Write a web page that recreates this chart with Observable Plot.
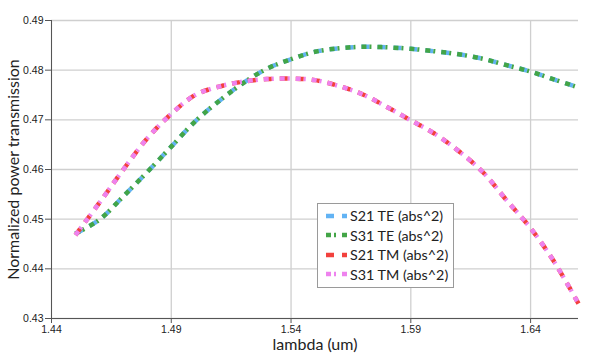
<!DOCTYPE html>
<html>
<head>
<meta charset="utf-8">
<script src="https://cdn.jsdelivr.net/npm/d3@7"></script>
<script src="https://cdn.jsdelivr.net/npm/@observablehq/plot@0.6"></script>
<style>
  html, body { margin: 0; padding: 0; background: #fff; }
  #wrap { position: relative; width: 598px; height: 359px; }
  #wrap svg { font-family: "Liberation Sans", sans-serif; }
  #wrap svg [aria-label="x-axis label"] text,
  #wrap svg [aria-label="y-axis label"] text { font-family: Lato, sans-serif; font-size: 16px; fill: #222; }
  #legend { position: absolute; left: 317px; top: 203px; padding: 2px 5px 3px 0;
    background: #fff; border: 1px solid #9a9a9a; font-family: Lato, sans-serif; font-size: 14.3px; color: #222; white-space: nowrap; }
  #legend .row { display: flex; align-items: center; height: 19.5px; }
  #legend svg { margin: 0 3px 0 5px; flex: none; }
</style>
</head>
<body>
<div id="wrap"></div>
<script>
const lambda = [1.45,1.46,1.47,1.48,1.49,1.50,1.51,1.52,1.53,1.54,1.55,1.56,1.57,1.58,1.59,1.60,1.61,1.62,1.63,1.64,1.65,1.66];
const s21TE = [0.4471,0.4499,0.4546,0.4595,0.4646,0.4697,0.4738,0.4774,0.4803,0.4822,0.4837,0.4844,0.4847,0.4846,0.4843,0.4838,0.4832,0.4823,0.4810,0.4797,0.4781,0.4765];
const s31TE = [0.4471,0.4499,0.4546,0.4595,0.4646,0.4697,0.4738,0.4774,0.4803,0.4822,0.4837,0.4844,0.4847,0.4846,0.4843,0.4838,0.4832,0.4823,0.4810,0.4797,0.4781,0.4765];
const s21TM = [0.4468,0.4533,0.4600,0.4663,0.4712,0.4750,0.4767,0.4777,0.4782,0.4783,0.4780,0.4768,0.4751,0.4726,0.4699,0.4672,0.4637,0.4595,0.4538,0.4482,0.4413,0.4330];
const s31TM = [0.4468,0.4533,0.4600,0.4663,0.4712,0.4750,0.4767,0.4777,0.4782,0.4783,0.4780,0.4768,0.4751,0.4726,0.4699,0.4672,0.4637,0.4595,0.4538,0.4482,0.4413,0.4330];
const seriesNames = ["S21 TE (abs^2)", "S31 TE (abs^2)", "S21 TM (abs^2)", "S31 TM (abs^2)"];
const seriesValues = [s21TE, s31TE, s21TM, s31TM];
const seriesColors = ["#62b3f4", "#43a547", "#f2413d", "#ee82ee"];
const seriesDash = ["8,8", "5,3,2,6", "8,8", "5,3,2,6"];
const xTicks = [1.44, 1.49, 1.54, 1.59, 1.64];
const yTicks = [0.43, 0.44, 0.45, 0.46, 0.47, 0.48, 0.49];

const lineMarks = seriesNames.map((name, i) => {
  const rows = lambda.map((x, j) => ({x, y: seriesValues[i][j], name}));
  return Plot.line(rows, {x: "x", y: "y", stroke: seriesColors[i], strokeWidth: 4.5,
    strokeDasharray: seriesDash[i], curve: "catmull-rom", strokeLinecap: "butt"});
});

const chart = Plot.plot({
  width: 598, height: 359,
  marginLeft: 51, marginRight: 20, marginTop: 20, marginBottom: 41,
  style: {fontSize: "10.5px", color: "#222", background: "#fff"},
  x: {domain: [1.44, 1.66]},
  y: {domain: [0.43, 0.49]},
  marks: [
    Plot.gridX(xTicks, {stroke: "#cfcfcf", strokeOpacity: 1, strokeWidth: 1.3}),
    Plot.gridY(yTicks, {stroke: "#cfcfcf", strokeOpacity: 1, strokeWidth: 1.3}),
    Plot.axisX(xTicks, {tickSize: 5, tickFormat: d3.format(".2f"), tickPadding: 2, stroke: "#555",
      label: "lambda (um)", labelAnchor: "center", labelArrow: "none", labelOffset: 31}),
    Plot.axisY(yTicks, {tickSize: 6, tickFormat: d3.format(".2f"), tickPadding: 2, stroke: "#555",
      label: "Normalized power transmission", labelAnchor: "center", labelArrow: "none", labelOffset: 44}),
    Plot.ruleX([1.44], {stroke: "#555"}),
    Plot.ruleY([0.43], {stroke: "#555"}),
    ...lineMarks
  ]
});
const wrap = document.getElementById("wrap");
wrap.appendChild(chart);

const legend = document.createElement("div");
legend.id = "legend";
seriesNames.forEach((name, i) => {
  const row = document.createElement("div");
  row.className = "row";
  row.innerHTML = `<svg width="24" height="8"><line x1="0" y1="4" x2="24" y2="4" stroke="${seriesColors[i]}" stroke-width="4.5" stroke-dasharray="${seriesDash[i]}" stroke-dashoffset="-3"/></svg><span>${name}</span>`;
  legend.appendChild(row);
});
wrap.appendChild(legend);
</script>
</body>
</html>
